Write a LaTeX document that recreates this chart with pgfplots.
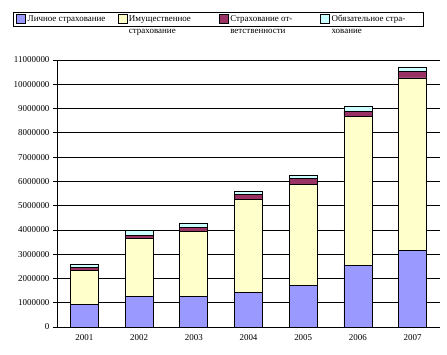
\documentclass[border=0pt]{standalone}
\usepackage{pgfplots}
\pgfplotsset{compat=1.18}
\usepackage{fontspec}
\setmainfont{Liberation Serif}
\definecolor{cA}{HTML}{9999FF}
\definecolor{cB}{HTML}{FFFFCC}
\definecolor{cC}{HTML}{993366}
\definecolor{cD}{HTML}{CCFFFF}
\begin{document}
\begin{tikzpicture}
\useasboundingbox (0,0) rectangle (447bp,355bp);
\begin{axis}[
  scale only axis, width=383bp, height=267bp,
  at={(57bp,28bp)}, anchor=south west,
  ybar stacked, bar width=28bp,
  xmin=-0.5, xmax=6.5, ymin=0, ymax=11000000,
  xtick={0,1,2,3,4,5,6},
  xticklabels={2001,2002,2003,2004,2005,2006,2007},
  major x tick style={draw=none},
  extra x ticks={-0.5,0.5,1.5,2.5,3.5,4.5,5.5,6.5},
  extra x tick labels={},
  extra x tick style={major tick length=4bp, tick align=outside, tick style={draw=black, line width=0.7bp}},
  ytick={0,1000000,2000000,3000000,4000000,5000000,6000000,7000000,8000000,9000000,10000000,11000000},
  scaled y ticks=false,
  yticklabel style={/pgf/number format/.cd, fixed, 1000 sep={}},
  /pgf/number format/assume math mode=true,
  ymajorgrids, grid style={black, line width=0.7bp},
  axis x line*=bottom, axis y line*=left,
  axis line style={black, line width=0.7bp},
  tick align=outside, major tick length=4bp,
  y tick style={black, line width=0.7bp},
  tick label style={font=\fontsize{9}{10}\selectfont},
  every axis plot/.append style={draw=black, line width=0.8bp},
  legend columns=4,
  legend style={at={(rel axis cs:-0.1149,1.1798)}, anchor=north west,
    draw=black, line width=0.8bp, inner xsep=3bp, inner ysep=1bp,
    font=\fontsize{9}{12}\selectfont,
    cells={anchor=base west},
    nodes={inner xsep=1.5bp, inner ysep=2bp},
    /tikz/every even column/.append style={column sep=1.5bp},
    /tikz/every odd column/.append style={column sep=0bp}},
  legend image code/.code={\draw[#1, draw=black, line width=0.8bp] (0bp,-2bp) rectangle (9bp,7bp);},
]
\addplot[fill=cA] coordinates {(0,945000) (1,1270000) (2,1270000) (3,1440000) (4,1730000) (5,2550000) (6,3160000)};
\addlegendentry{\parbox[t]{87bp}{Личное страхование}}
\addplot[fill=cB] coordinates {(0,1395000) (1,2390000) (2,2660000) (3,3820000) (4,4150000) (5,6120000) (6,7100000)};
\addlegendentry{\parbox[t]{87bp}{Имущественное\newline страхование}}
\addplot[fill=cC] coordinates {(0,130000) (1,120000) (2,180000) (3,210000) (4,230000) (5,210000) (6,250000)};
\addlegendentry{\parbox[t]{87bp}{Страхование от-\newline ветственности}}
\addplot[fill=cD] coordinates {(0,120000) (1,180000) (2,160000) (3,110000) (4,150000) (5,190000) (6,190000)};
\addlegendentry{\parbox[t]{87bp}{Обязательное стра-\newline хование}}
\end{axis}
\end{tikzpicture}
\end{document}
